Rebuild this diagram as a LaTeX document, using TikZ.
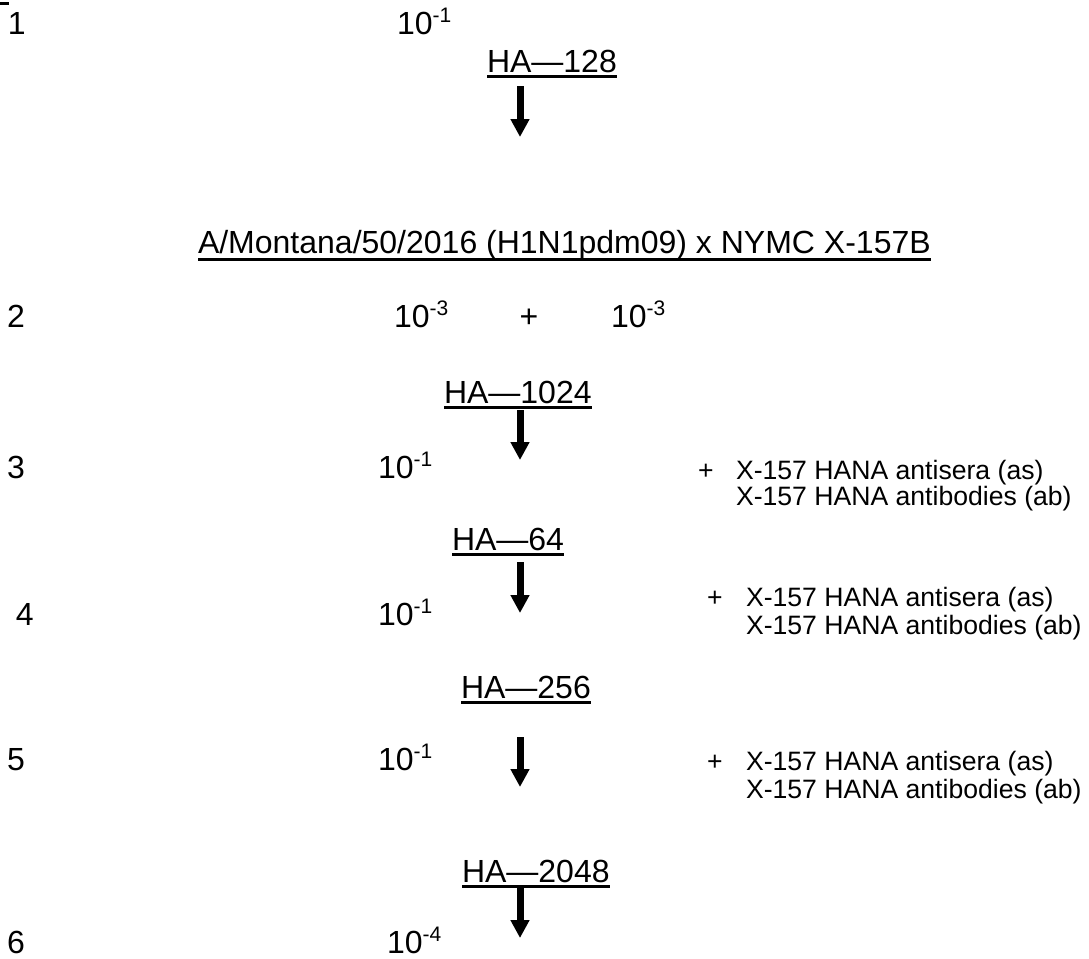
\documentclass[tikz,border=0pt]{standalone}
\usepackage{fontspec}
\setmainfont{Liberation Sans}
\usetikzlibrary{arrows.meta}
\newcommand\mysup[1]{\raisebox{12pt}{\fontsize{21}{24}\selectfont #1}}
\begin{document}
\begin{tikzpicture}[x=1pt,y=-1pt,
  lbl/.style={inner sep=0pt, outer sep=0pt, anchor=base west, font=\fontsize{32}{38}\selectfont},
  side/.style={inner sep=0pt, outer sep=0pt, anchor=base west, font=\fontsize{26.6}{30}\selectfont},
  uline/.style={line width=3pt},
  arr/.style={line width=7pt, -{Triangle[width=18pt,length=18pt]}}]
\useasboundingbox (0,0) rectangle (1089,958);
\fill (0,2) rectangle (9,5);
% row 1
\node[lbl] (n1) at (8,35) {1};
\node[lbl] (d1) at (397,35) {10\mysup{-1}};
\node[lbl] (h1) at (487,72) {HA—128};
\draw[uline] ([yshift=-4pt]h1.base west) -- ([yshift=-4pt]h1.base east);
\coordinate (a1s) at (520,86); \coordinate (a1e) at (520,137);
\draw[arr] (a1s) -- (a1e);
% title
\node[lbl] (title) at (198,253) {A/Montana/50/2016 (H1N1pdm09) x NYMC X-157B};
\draw[uline] ([yshift=-6pt]title.base west) -- ([yshift=-6pt]title.base east);
% row 2
\node[lbl] (n2) at (7,327) {2};
\node[lbl] (d2a) at (394,327) {10\mysup{-3}};
\node[lbl, anchor=base] (p2) at (529,327) {+};
\node[lbl] (d2b) at (611,327) {10\mysup{-3}};
% HA 1024
\node[lbl] (h2) at (444,403) {HA—1024};
\draw[uline] ([yshift=-4pt]h2.base west) -- ([yshift=-4pt]h2.base east);
\coordinate (a2s) at (520,410); \coordinate (a2e) at (520,460);
\draw[arr] (a2s) -- (a2e);
% row 3
\node[lbl] (n3) at (7,478) {3};
\node[lbl] (d3) at (378,478) {10\mysup{-1}};
\node[side, anchor=base] (p3) at (706,479) {+};
\node[side] (s3a) at (736,479) {X-157 HANA antisera (as)};
\node[side] (s3b) at (736,505) {X-157 HANA antibodies (ab)};
% HA 64
\node[lbl] (h3) at (452,550) {HA—64};
\draw[uline] ([yshift=-4pt]h3.base west) -- ([yshift=-4pt]h3.base east);
\coordinate (a3s) at (520,562); \coordinate (a3e) at (520,613);
\draw[arr] (a3s) -- (a3e);
% row 4
\node[lbl] (n4) at (16,625) {4};
\node[lbl] (d4) at (378,625) {10\mysup{-1}};
\node[side, anchor=base] (p4) at (715,606) {+};
\node[side] (s4a) at (746,606) {X-157 HANA antisera (as)};
\node[side] (s4b) at (746,634) {X-157 HANA antibodies (ab)};
% HA 256
\node[lbl] (h4) at (461,698) {HA—256};
\draw[uline] ([yshift=-4pt]h4.base west) -- ([yshift=-4pt]h4.base east);
\coordinate (a4s) at (520,737); \coordinate (a4e) at (520,787);
\draw[arr] (a4s) -- (a4e);
% row 5
\node[lbl] (n5) at (7,770) {5};
\node[lbl] (d5) at (378,770) {10\mysup{-1}};
\node[side, anchor=base] (p5) at (715,770) {+};
\node[side] (s5a) at (746,770) {X-157 HANA antisera (as)};
\node[side] (s5b) at (746,798) {X-157 HANA antibodies (ab)};
% HA 2048
\node[lbl] (h5) at (462,882) {HA—2048};
\draw[uline] ([yshift=-4pt]h5.base west) -- ([yshift=-4pt]h5.base east);
\coordinate (a5s) at (520,888); \coordinate (a5e) at (520,938);
\draw[arr] (a5s) -- (a5e);
% row 6
\node[lbl] (n6) at (7,953) {6};
\node[lbl] (d6) at (387,953) {10\mysup{-4}};
\end{tikzpicture}
\end{document}
